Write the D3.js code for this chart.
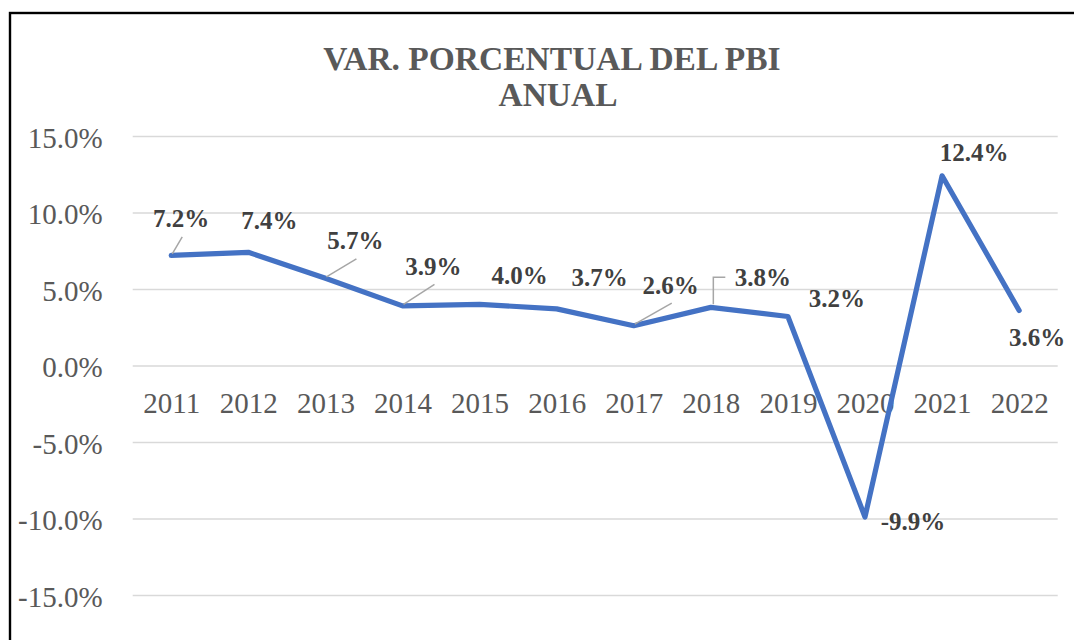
<!DOCTYPE html>
<html>
<head>
<meta charset="utf-8">
<script src="https://cdn.jsdelivr.net/npm/d3@7"></script>
<style>
  body { margin: 0; background: #fff; }
  svg text { font-family: "Liberation Serif", "Times New Roman", serif; }
</style>
</head>
<body>
<div id="chart"></div>
<script>
const years = ["2011", "2012", "2013", "2014", "2015", "2016", "2017", "2018", "2019", "2020", "2021", "2022"];
const pbiVar = [7.2, 7.4, 5.7, 3.9, 4.0, 3.7, 2.6, 3.8, 3.2, -9.9, 12.4, 3.6];
const yTicks = [-15, -10, -5, 0, 5, 10, 15];
const titleLines = ["VAR. PORCENTUAL DEL PBI", "ANUAL"];

// where Excel moved each data label, relative to its point
const labelNudge = [[10, -28], [21, -23], [30, -29], [31, -31], [40, -20], [43, -23],
                    [37, -32], [52, -21], [49, -10], [48, 13], [32, -15], [18, 36]];
const leaders = ["line", null, "line", "line", null, null, "line", "elbow", null, null, null, null];

const width = 1074, height = 640;
const serif = "'Liberation Serif', 'Times New Roman', serif";
const pct = v => v.toFixed(1) + "%";

const svg = d3.select("#chart")
    .append("svg")
    .attr("width", width)
    .attr("height", height);

// chart area border (right and bottom run off the picture)
svg.append("rect")
    .attr("x", 10).attr("y", 13)
    .attr("width", 1100).attr("height", 700)
    .attr("fill", "none")
    .attr("stroke", "#000")
    .attr("stroke-width", 2.4);

const x = d3.scalePoint().domain(years).range([132.7, 1057.7]).padding(0.5);
const y = d3.scaleLinear().domain([-15, 15]).range([595, 136]);

// title
svg.append("g").selectAll("text")
    .data(titleLines)
    .enter()
    .append("text")
    .attr("x", (d, i) => i === 0 ? 552 : 558)
    .attr("y", (d, i) => 69.5 + i * 36.7)
    .attr("text-anchor", "middle")
    .attr("font-family", serif)
    .attr("font-size", "33.5px")
    .attr("font-weight", "bold")
    .attr("fill", "#595959")
    .text(d => d);

// y axis with gridlines
const yAxis = svg.append("g")
    .attr("transform", "translate(132.7,0)")
    .call(d3.axisLeft(y)
        .tickValues(yTicks)
        .tickSize(-925)
        .tickPadding(30)
        .tickFormat(pct));
yAxis.select(".domain").remove();
yAxis.selectAll(".tick line")
    .attr("stroke", "#d9d9d9")
    .attr("stroke-width", 1.6);
yAxis.selectAll(".tick text")
    .attr("dy", "0.38em")
    .attr("font-family", serif)
    .attr("font-size", "29px")
    .attr("fill", "#595959");

// category axis crossing at 0
const xAxis = svg.append("g")
    .attr("transform", `translate(0,${y(0)})`)
    .call(d3.axisBottom(x).tickSize(0).tickPadding(26.7));
xAxis.select(".domain").remove();
xAxis.selectAll(".tick text")
    .attr("font-family", serif)
    .attr("font-size", "29px")
    .attr("fill", "#595959");

const points = years.map((yr, i) => ({ year: yr, value: pbiVar[i], i: i }));

// the series
const line = d3.line().x(d => x(d.year)).y(d => y(d.value));
svg.append("path")
    .datum(points)
    .attr("d", line)
    .attr("fill", "none")
    .attr("stroke", "#4472c4")
    .attr("stroke-width", 5.2)
    .attr("stroke-linejoin", "round")
    .attr("stroke-linecap", "round");

const lx = d => x(d.year) + labelNudge[d.i][0];
const ly = d => y(d.value) + labelNudge[d.i][1];

// leader lines
svg.append("g").selectAll("path")
    .data(points.filter(d => leaders[d.i]))
    .enter()
    .append("path")
    .attr("d", d => {
        const px = x(d.year), py = y(d.value);
        if (leaders[d.i] === "elbow") {
            const sx = lx(d) - 37.5, sy = ly(d) - 9;
            return `M${sx},${sy}H${px + 2.5}V${py - 3}`;
        }
        return `M${lx(d) + 1},${ly(d) + 9.5}L${px + 1},${py - 1.5}`;
    })
    .attr("fill", "none")
    .attr("stroke", "#a6a6a6")
    .attr("stroke-width", 1.5);

// data labels
svg.append("g").selectAll("text")
    .data(points)
    .enter()
    .append("text")
    .attr("x", lx)
    .attr("y", ly)
    .attr("text-anchor", "middle")
    .attr("font-family", serif)
    .attr("font-size", "25px")
    .attr("font-weight", "bold")
    .attr("fill", "#404040")
    .text(d => pct(d.value));
</script>
</body>
</html>
